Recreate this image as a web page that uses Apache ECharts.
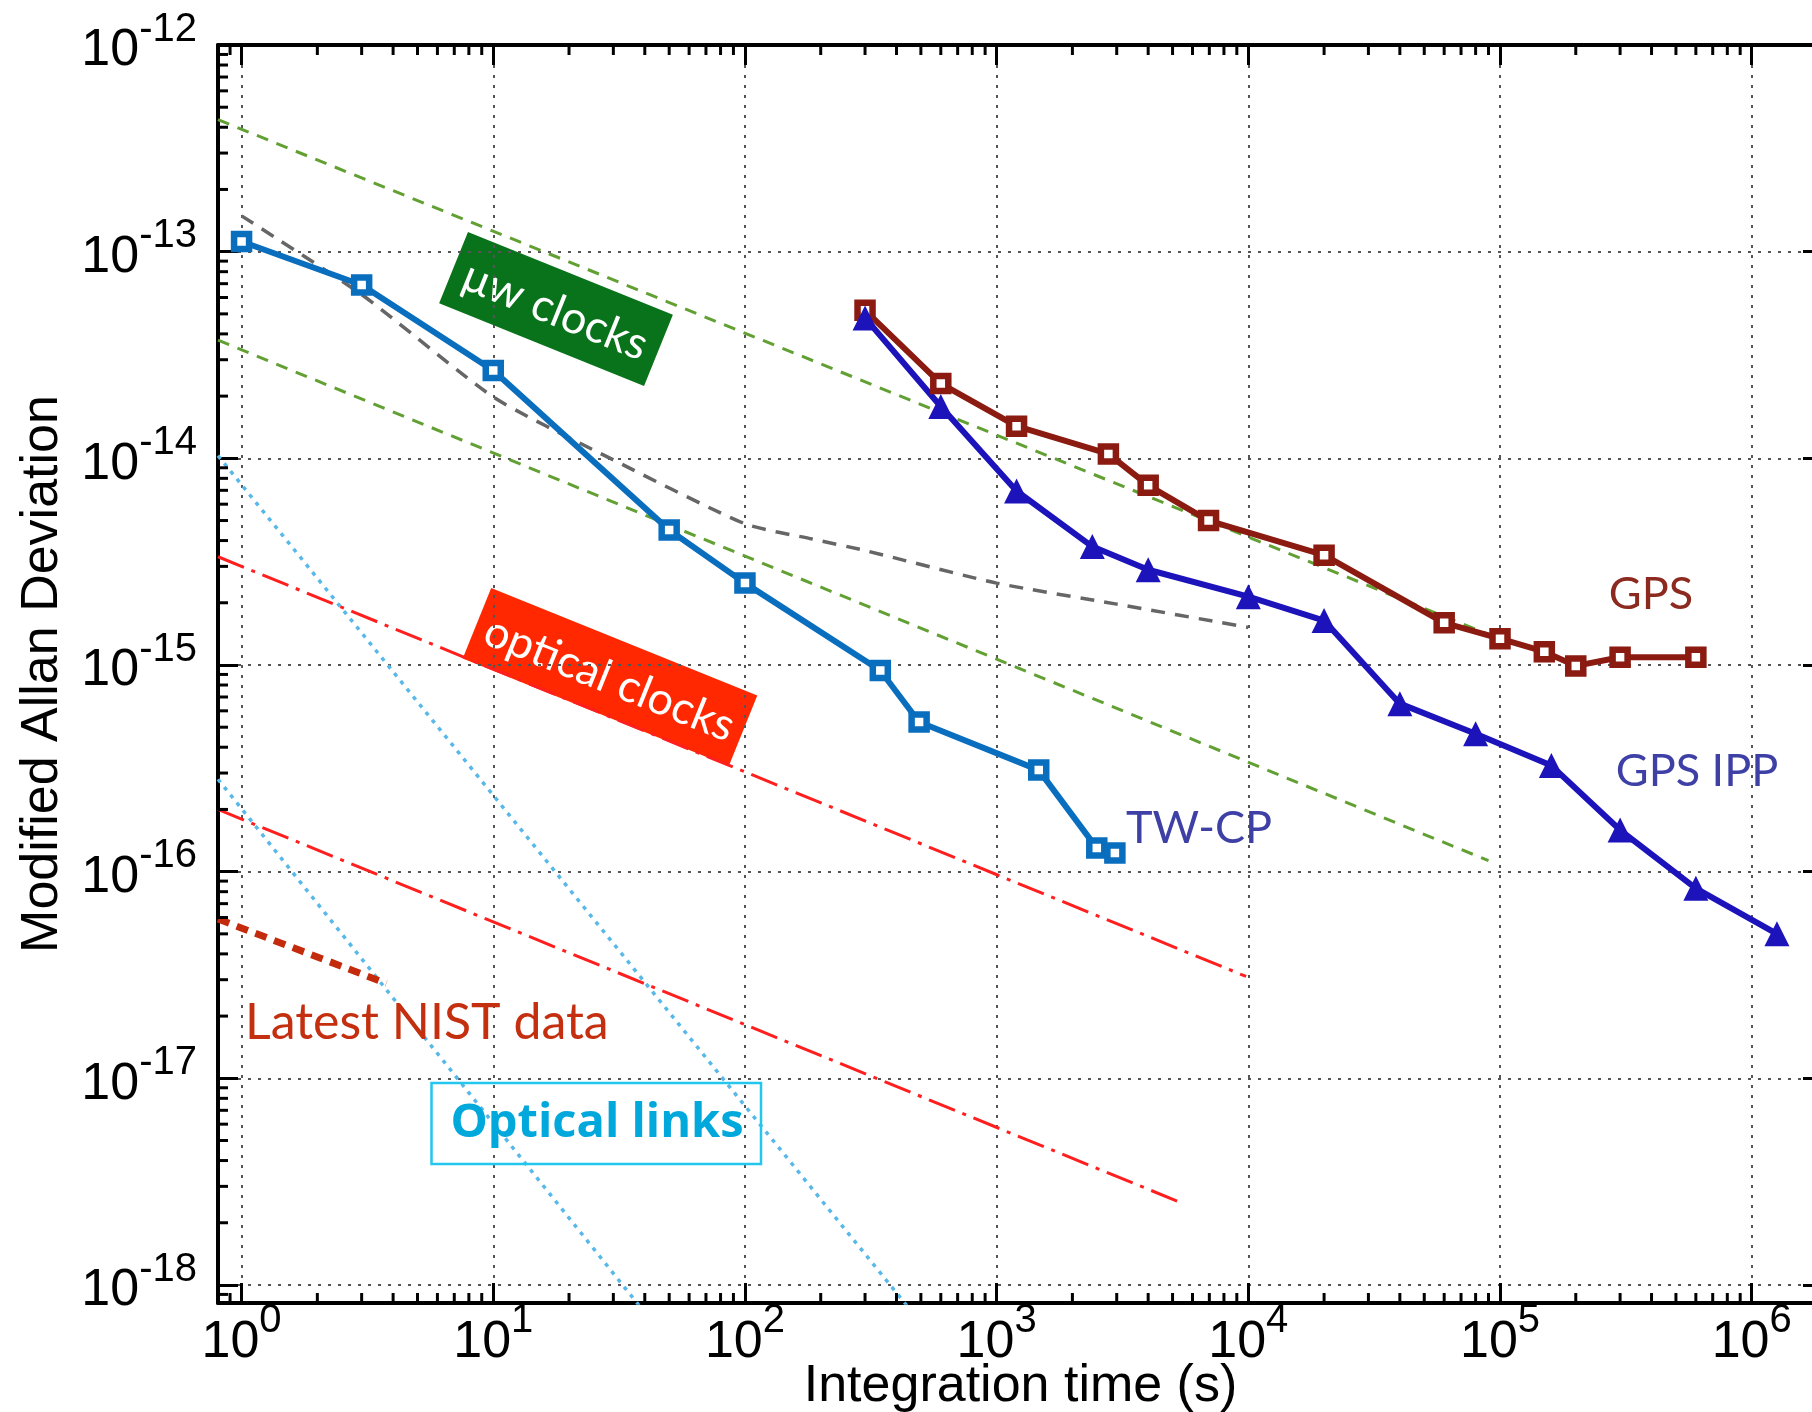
<!DOCTYPE html>
<html>
<head>
<meta charset="utf-8">
<title>Modified Allan Deviation</title>
<script src="https://cdn.jsdelivr.net/npm/echarts@6/dist/echarts.min.js"></script>
<style>
  html, body { margin: 0; padding: 0; background: #fff; }
  #chart { width: 1812px; height: 1412px; }
</style>
</head>
<body>
<div id="chart"></div>
<script>
// axis extents
const X_MIN = 0.806, X_MAX = 1.92e6;
const Y_MIN = 8.18e-19, Y_MAX = 1e-12;

// measured links
const twcpTau = [1, 3, 10, 50, 100, 345, 492, 1470, 2500, 2950];
const twcpDev = [1.12e-13, 6.9e-14, 2.66e-14, 4.5e-15, 2.49e-15, 9.4e-16, 5.3e-16, 3.1e-16, 1.3e-16, 1.23e-16];

const gpsTau = [300, 600, 1200, 2780, 4000, 6950, 20000, 60000, 100000, 150000, 200000, 300000, 600000];
const gpsDev = [5.2e-14, 2.3e-14, 1.43e-14, 1.05e-14, 7.4e-15, 5.0e-15, 3.4e-15, 1.6e-15, 1.34e-15, 1.16e-15, 9.9e-16, 1.09e-15, 1.09e-15];

const ippTau = [300, 600, 1200, 2400, 4000, 10000, 20000, 40000, 80000, 160000, 300000, 600000, 1.26e6];
const ippDev = [4.78e-14, 1.78e-14, 6.95e-15, 3.74e-15, 2.89e-15, 2.14e-15, 1.64e-15, 6.5e-16, 4.65e-16, 3.26e-16, 1.59e-16, 8.3e-17, 5.0e-17];

// reference slopes (end points)
const muwUpperTau = [0.806, 95000];
const muwUpperDev = [4.35e-13, 1.37e-15];
const muwLowerTau = [0.806, 90000];
const muwLowerDev = [3.73e-14, 1.13e-16];
const grayTau = [1, 3, 10, 26.5, 100, 185, 300, 1000, 3000, 10000];
const grayDev = [1.49e-13, 6.2e-14, 1.98e-14, 1.06e-14, 4.82e-15, 4.07e-15, 3.58e-15, 2.49e-15, 1.97e-15, 1.52e-15];
const optUpperTau = [0.806, 9800];
const optUpperDev = [3.34e-15, 3.11e-17];
const optLowerTau = [0.806, 5280];
const optLowerDev = [2.0e-16, 2.53e-18];
const linkUpperTau = [0.806, 440];
const linkUpperDev = [1.03e-14, 7.94e-19];
const linkLowerTau = [0.806, 38];
const linkLowerDev = [2.8e-16, 7.94e-19];
const nistTau = [0.806, 3.76];
const nistDev = [5.9e-17, 2.88e-17];

// minor tick positions (mantissa x decade)
const mantissas = [2, 3, 4, 5, 6, 7, 8, 9];
const xDecades = [0.1, 1, 10, 100, 1e3, 1e4, 1e5, 1e6];
const yDecades = [1e-19, 1e-18, 1e-17, 1e-16, 1e-15, 1e-14, 1e-13];

const pairs = (xs, ys) => xs.map((x, i) => [x, ys[i]]);
const spread = (decs) => [].concat(...decs.map(d => mantissas.map(m => m * d)));
const xMinor = spread(xDecades).filter(v => v > X_MIN && v < X_MAX);
const yMinor = spread(yDecades).filter(v => v > Y_MIN && v < Y_MAX);

const FONT = 'Liberation Sans';

function powLabel(v) {
  const lg = Math.log10(v);
  const e = Math.round(lg);
  if (Math.abs(lg - e) > 1e-6) return '';
  return '{b|10}{s|' + e + '}';
}
const labelRich = {
  b: { fontFamily: FONT, fontSize: 52, lineHeight: 83, color: '#000' },
  s: { fontFamily: FONT, fontSize: 40, lineHeight: 40, verticalAlign: 'top', color: '#000' }
};

const axisLine = { show: true, onZero: false, lineStyle: { color: '#000', width: 4 } };
const majorTick = { show: true, inside: true, length: 20, lineStyle: { color: '#000', width: 3 } };
const gridLine = { show: true, lineStyle: { color: '#555', width: 2, type: [3, 7] } };

function refLine(name, xs, ys, color, width, dash) {
  return {
    name: name,
    type: 'line',
    data: pairs(xs, ys),
    symbol: 'none',
    silent: true,
    smooth: name === 'gray' ? 0.2 : false,
    lineStyle: { color: color, width: width, type: dash },
    z: 1
  };
}

function dataLine(name, xs, ys, color, symbol, size, filled) {
  return {
    name: name,
    type: 'line',
    data: pairs(xs, ys),
    symbol: symbol,
    symbolSize: size,
    showAllSymbol: true,
    lineStyle: { color: color, width: 6 },
    itemStyle: filled
      ? { color: color }
      : { color: '#fff', borderColor: color, borderWidth: 6.5 },
    z: 3
  };
}

function minorTicks(vals, horizontal) {
  return {
    type: 'custom',
    silent: true,
    z: 10,
    data: vals.map(v => horizontal ? [v, Y_MIN] : [X_MIN, v]),
    renderItem: function (params, api) {
      const st = { stroke: '#000', lineWidth: 3 };
      if (horizontal) {
        const b = api.coord([api.value(0), Y_MIN]);
        const t = api.coord([api.value(0), Y_MAX]);
        return { type: 'group', children: [
          { type: 'line', shape: { x1: b[0], y1: b[1], x2: b[0], y2: b[1] - 10 }, style: st },
          { type: 'line', shape: { x1: t[0], y1: t[1], x2: t[0], y2: t[1] + 10 }, style: st }
        ] };
      }
      const l = api.coord([X_MIN, api.value(1)]);
      const r = api.coord([X_MAX, api.value(1)]);
      return { type: 'group', children: [
        { type: 'line', shape: { x1: l[0], y1: l[1], x2: l[0] + 10, y2: l[1] }, style: st },
        { type: 'line', shape: { x1: r[0], y1: r[1], x2: r[0] - 10, y2: r[1] }, style: st }
      ] };
    }
  };
}

function tiltedBox(cx, cy, w, h, fill, text) {
  return {
    type: 'group', x: cx, y: cy, rotation: -22 * Math.PI / 180, z: 100,
    children: [
      { type: 'rect', shape: { x: -w / 2, y: -h / 2, width: w, height: h }, style: { fill: fill } },
      { type: 'text', x: 0, y: 2, style: {
        text: text, fill: '#fff', fontFamily: 'Lato', fontSize: 45,
        textAlign: 'center', textVerticalAlign: 'middle', align: 'center', verticalAlign: 'middle'
      } }
    ]
  };
}

function note(x, y, text, color, align, size, weight, family) {
  return {
    type: 'text', x: x, y: y, z: 100,
    style: {
      text: text, fill: color, fontFamily: family || 'Lato', fontSize: size || 45,
      fontWeight: weight || 'normal',
      textAlign: align, textVerticalAlign: 'middle', align: align, verticalAlign: 'middle'
    }
  };
}

const chart = echarts.init(document.getElementById('chart'));
chart.setOption({
  animation: false,
  backgroundColor: '#fff',
  grid: { left: 218, right: -11, top: 45, bottom: 109, containLabel: false, outerBoundsMode: 'none' },
  xAxis: [
    {
      type: 'log', logBase: 10, min: X_MIN, max: X_MAX, position: 'bottom',
      axisLine: axisLine, axisTick: majorTick, splitLine: gridLine,
      axisLabel: { formatter: powLabel, rich: labelRich, margin: -2 },
      name: 'Integration time (s)', nameLocation: 'middle', nameGap: 58, nameMoveOverlap: false,
      nameTextStyle: { fontFamily: FONT, fontSize: 52, color: '#000' }
    },
    {
      type: 'log', logBase: 10, min: X_MIN, max: X_MAX, position: 'top',
      axisLine: axisLine, axisTick: majorTick, splitLine: { show: false }, axisLabel: { show: false }
    }
  ],
  yAxis: [
    {
      type: 'log', logBase: 10, min: Y_MIN, max: Y_MAX, position: 'left',
      axisLine: axisLine, axisTick: majorTick, splitLine: gridLine,
      axisLabel: { formatter: powLabel, rich: labelRich, margin: 21, padding: [12, 0, 0, 0] },
      name: 'Modified Allan Deviation', nameLocation: 'middle', nameGap: 149, nameRotate: 90,
      nameTextStyle: { fontFamily: FONT, fontSize: 52, color: '#000' }
    },
    {
      type: 'log', logBase: 10, min: Y_MIN, max: Y_MAX, position: 'right',
      axisLine: axisLine, axisTick: majorTick, splitLine: { show: false }, axisLabel: { show: false }
    }
  ],
  series: [
    refLine('muw upper', muwUpperTau, muwUpperDev, '#62a033', 3, [12, 9]),
    refLine('muw lower', muwLowerTau, muwLowerDev, '#62a033', 3, [12, 9]),
    refLine('gray', grayTau, grayDev, '#666666', 3.5, [14, 10]),
    refLine('optical upper', optUpperTau, optUpperDev, '#ff1f1f', 3, [28, 8, 4, 8]),
    refLine('optical lower', optLowerTau, optLowerDev, '#ff1f1f', 3, [28, 8, 4, 8]),
    refLine('link upper', linkUpperTau, linkUpperDev, '#58b8e8', 3.5, [4, 6]),
    refLine('link lower', linkLowerTau, linkLowerDev, '#58b8e8', 3.5, [4, 6]),
    refLine('nist', nistTau, nistDev, '#c42b0c', 7, [12, 8]),
    dataLine('TW-CP', twcpTau, twcpDev, '#0a6ebe', 'rect', 15, false),
    dataLine('GPS', gpsTau, gpsDev, '#8b1a10', 'rect', 15, false),
    dataLine('GPS IPP', ippTau, ippDev, '#1d13bb', 'triangle', 25, true),
    minorTicks(xMinor, true),
    minorTicks(yMinor, false)
  ],
  graphic: [
    tiltedBox(556, 309, 221, 77, '#08731a', 'μw clocks'),
    tiltedBox(610, 677, 287, 76, '#ff2800', 'optical clocks'),
    note(1199, 828, 'TW-CP', '#3e40a6', 'center'),
    note(1651, 594, 'GPS', '#8c2a1f', 'center'),
    note(1697, 771, 'GPS IPP', '#3e40a6', 'center'),
    note(245, 1023, 'Latest NIST data', '#c4300f', 'left', 50),
    {
      type: 'rect', z: 100,
      shape: { x: 431.5, y: 1083, width: 329.5, height: 81 },
      style: { fill: 'none', stroke: '#22c6ee', lineWidth: 2.5 }
    },
    note(597, 1124, 'Optical links', '#00a8dc', 'center', 47, 'bold', 'Open Sans')
  ]
});
</script>
</body>
</html>
